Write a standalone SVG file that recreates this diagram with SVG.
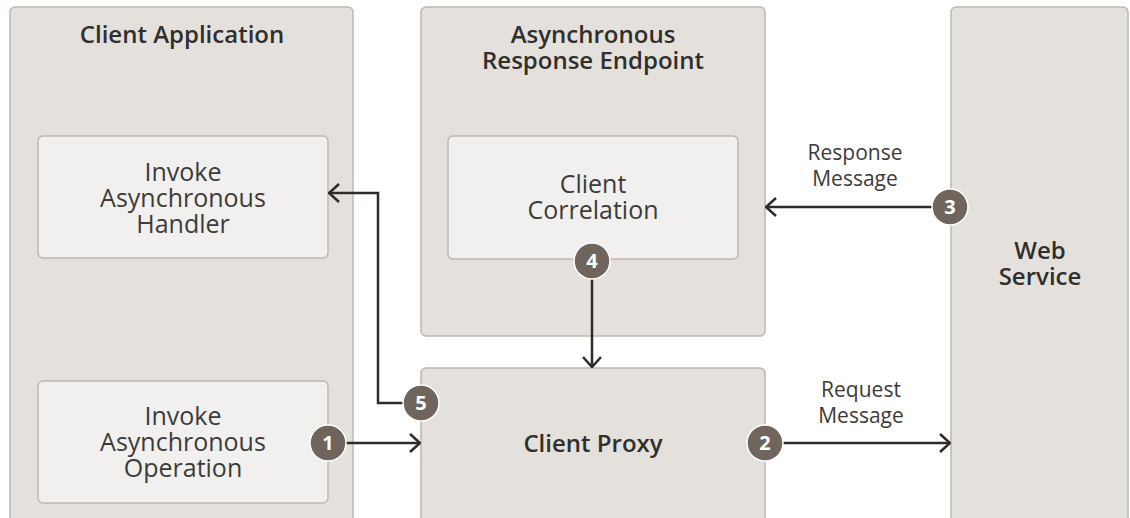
<svg xmlns="http://www.w3.org/2000/svg" width="1130" height="518" viewBox="0 0 1130 518">
<defs>
<style>
.outer{fill:#e4e1dd;stroke:#bdb8b2;stroke-width:1.5}
.inner{fill:#f1f0ee;stroke:#bdb8b2;stroke-width:1.5}
.t{font-family:"Open Sans","Noto Sans","Liberation Sans",sans-serif;fill:#3d3b38;text-anchor:middle}
.reg{font-size:25px}
.bold{font-size:24px;font-weight:600;fill:#312f2d}
.lbl{font-size:21px}
.line{fill:none;stroke:#2e2c2a;stroke-width:2.5}
.badge{fill:#6f655c;stroke:#ffffff;stroke-width:1.5}
.num{font-family:"Open Sans","Noto Sans","Liberation Sans",sans-serif;font-size:20px;font-weight:bold;fill:#ffffff;text-anchor:middle}
</style>
<marker id="ah" viewBox="0 0 12 20" refX="11" refY="10" markerWidth="12" markerHeight="20" markerUnits="userSpaceOnUse" orient="auto">
<path d="M1,1 L11,10 L1,19" fill="none" stroke="#2e2c2a" stroke-width="2.5"/>
</marker>
</defs>
<rect width="1130" height="518" fill="#ffffff"/>

<g id="client-application">
<rect class="outer" x="10" y="7" width="343" height="520" rx="5"/>
<text class="t bold" x="182" y="43">Client Application</text>
</g>
<g id="invoke-async-handler">
<rect class="inner" x="38" y="136" width="290" height="122" rx="5"/>
<text class="t reg" x="183" y="181">Invoke</text>
<text class="t reg" x="183" y="207">Asynchronous</text>
<text class="t reg" x="183" y="233">Handler</text>
</g>
<g id="invoke-async-operation">
<rect class="inner" x="38" y="381" width="290" height="122" rx="5"/>
<text class="t reg" x="183" y="425">Invoke</text>
<text class="t reg" x="183" y="451">Asynchronous</text>
<text class="t reg" x="183" y="477">Operation</text>
</g>
<g id="async-response-endpoint">
<rect class="outer" x="421" y="7" width="344" height="329" rx="5"/>
<text class="t bold" x="593" y="43">Asynchronous</text>
<text class="t bold" x="593" y="69">Response Endpoint</text>
</g>
<g id="client-correlation">
<rect class="inner" x="448" y="136" width="290" height="123" rx="5"/>
<text class="t reg" x="593" y="193">Client</text>
<text class="t reg" x="593" y="219">Correlation</text>
</g>
<g id="client-proxy">
<rect class="outer" x="421" y="368" width="344" height="160" rx="5"/>
<text class="t bold" x="593" y="452">Client Proxy</text>
</g>
<g id="web-service">
<rect class="outer" x="951" y="7" width="177" height="520" rx="5"/>
<text class="t bold" x="1040" y="259">Web</text>
<text class="t bold" x="1040" y="285">Service</text>
</g>

<g id="connectors">
<path class="line" d="M346,443 L420,443" marker-end="url(#ah)"/>
<path class="line" d="M783,443 L950,443" marker-end="url(#ah)"/>
<path class="line" d="M932,207 L766,207" marker-end="url(#ah)"/>
<path class="line" d="M592,279 L592,367" marker-end="url(#ah)"/>
<path class="line" d="M403,403 L378,403 L378,193 L329,193" marker-end="url(#ah)"/>
<text class="t lbl" x="855" y="160">Response</text>
<text class="t lbl" x="855" y="186">Message</text>
<text class="t lbl" x="861" y="397">Request</text>
<text class="t lbl" x="861" y="423">Message</text>
</g>

<g id="badges">
<circle class="badge" cx="328" cy="443" r="18"/>
<text class="num" x="328" y="450">1</text>
<circle class="badge" cx="765" cy="443" r="18"/>
<text class="num" x="765" y="450">2</text>
<circle class="badge" cx="950" cy="207" r="18"/>
<text class="num" x="950" y="214">3</text>
<circle class="badge" cx="592" cy="261" r="18"/>
<text class="num" x="592" y="268">4</text>
<circle class="badge" cx="421" cy="403" r="18"/>
<text class="num" x="421" y="410">5</text>
</g>
</svg>
